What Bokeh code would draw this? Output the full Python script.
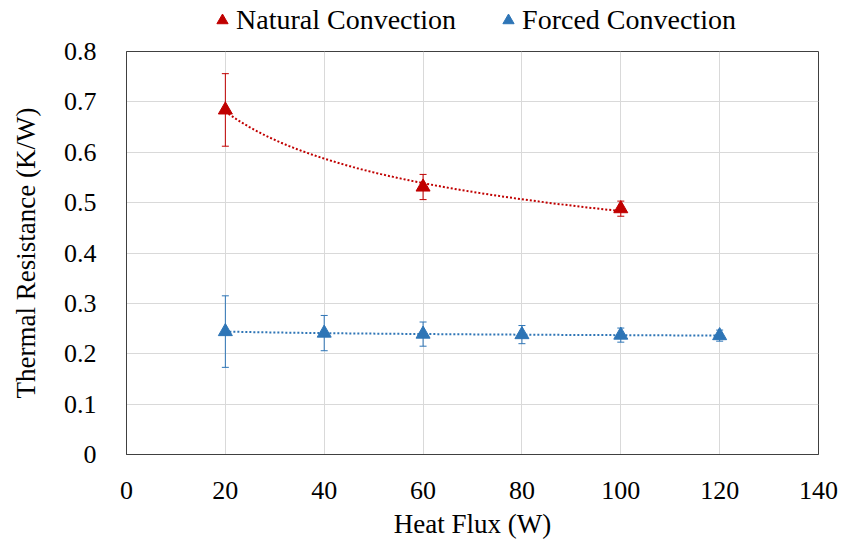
import numpy as np
from bokeh.plotting import figure
from bokeh.layouts import column
from bokeh.models import (ColumnDataSource, Whisker, TeeHead, Legend, LegendItem,
                          FixedTicker, Range1d)
from bokeh.embed import file_html
from bokeh.resources import INLINE

# Data
nat_x = [20, 60, 100]
nat_y = [0.684, 0.531, 0.488]
nat_err = [0.072, 0.025, 0.015]

forced_x = [20, 40, 60, 80, 100, 120]
forced_y = [0.244, 0.241, 0.239, 0.238, 0.237, 0.236]
forced_err = [0.071, 0.035, 0.024, 0.018, 0.014, 0.011]

x_ticks = [0, 20, 40, 60, 80, 100, 120, 140]
y_ticks = [0, 0.1, 0.2, 0.3, 0.4, 0.5, 0.6, 0.7, 0.8]

RED = "#c00000"
BLUE = "#2e75b6"
FONT = "Liberation Serif"
series = [(nat_x, nat_y, nat_err, RED, "Natural Convection"),
          (forced_x, forced_y, forced_err, BLUE, "Forced Convection")]

p = figure(width=841, height=503, output_backend="svg", toolbar_location=None,
           x_range=Range1d(0, 140), y_range=Range1d(0, 0.8),
           min_border_left=126, min_border_right=23, min_border_top=13,
           min_border_bottom=84)
p.outline_line_color = "#404040"
p.outline_line_width = 1

for ax in (p.xaxis[0], p.yaxis[0]):
    ax.major_tick_line_color = None
    ax.minor_tick_line_color = None
    ax.axis_line_color = "#404040"
    ax.axis_line_width = 1
    ax.major_label_text_font = FONT
    ax.major_label_text_font_size = "26px"
    ax.major_label_text_color = "#000000"
    ax.axis_label_text_font = FONT
    ax.axis_label_text_font_size = "27px"
    ax.axis_label_text_font_style = "normal"
    ax.axis_label_text_color = "#000000"

p.xaxis.ticker = FixedTicker(ticks=x_ticks)
p.yaxis.ticker = FixedTicker(ticks=y_ticks)
p.yaxis.major_label_overrides = {0: "0"}
p.xaxis.axis_label = "Heat Flux (W)"
p.yaxis.axis_label = "Thermal Resistance (K/W)"
p.xaxis.major_label_standoff = 21
p.yaxis.major_label_standoff = 24
p.xaxis.axis_label_standoff = 7
p.yaxis.axis_label_standoff = 20
p.xgrid.grid_line_color = "#d9d9d9"
p.ygrid.grid_line_color = "#d9d9d9"
p.xgrid.ticker = FixedTicker(ticks=x_ticks)
p.ygrid.ticker = FixedTicker(ticks=y_ticks)


def power_fit(xs, ys, n=100):
    b, lna = np.polyfit(np.log(xs), np.log(ys), 1)
    xx = np.linspace(min(xs), max(xs), n)
    return xx, np.exp(lna) * xx ** b


for xs, ys, errs, col, name in series:
    tx, ty = power_fit(xs, ys)
    p.line(tx, ty, line_color=col, line_width=2, line_dash="2 2")
    src = ColumnDataSource(dict(x=xs, y=ys,
                                lo=[y - e for y, e in zip(ys, errs)],
                                hi=[y + e for y, e in zip(ys, errs)]))
    w = Whisker(source=src, base="x", lower="lo", upper="hi", line_color=col,
                line_width=1,
                upper_head=TeeHead(size=7, line_color=col, line_width=1),
                lower_head=TeeHead(size=7, line_color=col, line_width=1))
    p.add_layout(w)
    p.scatter("x", "y", source=src, marker="triangle", size=14,
              fill_color=col, line_color=col)

# Legend strip above the plot (its proxy markers sit outside its visible range)
lg = figure(width=841, height=38, output_backend="svg", toolbar_location=None,
            x_range=Range1d(0, 1), y_range=Range1d(0, 1),
            x_axis_location=None, y_axis_location=None,
            min_border=0, outline_line_color=None)
lg.xgrid.visible = False
lg.ygrid.visible = False
items = []
for xs, ys, errs, col, name in series:
    r = lg.scatter(x=[-5], y=[-5], marker="triangle", fill_color=col, line_color=col)
    items.append(LegendItem(label=name, renderers=[r]))

legend = Legend(items=items, orientation="horizontal", location=(82, 2),
                label_text_font=FONT, label_text_font_size="28px",
                label_text_color="#000000", border_line_color=None,
                background_fill_alpha=0, glyph_width=28, glyph_height=28,
                spacing=38, padding=0, margin=0, label_standoff=0)
lg.add_layout(legend, "center")

layout = column(lg, p, spacing=0)
open("out.html", "w").write(file_html(layout, INLINE))
